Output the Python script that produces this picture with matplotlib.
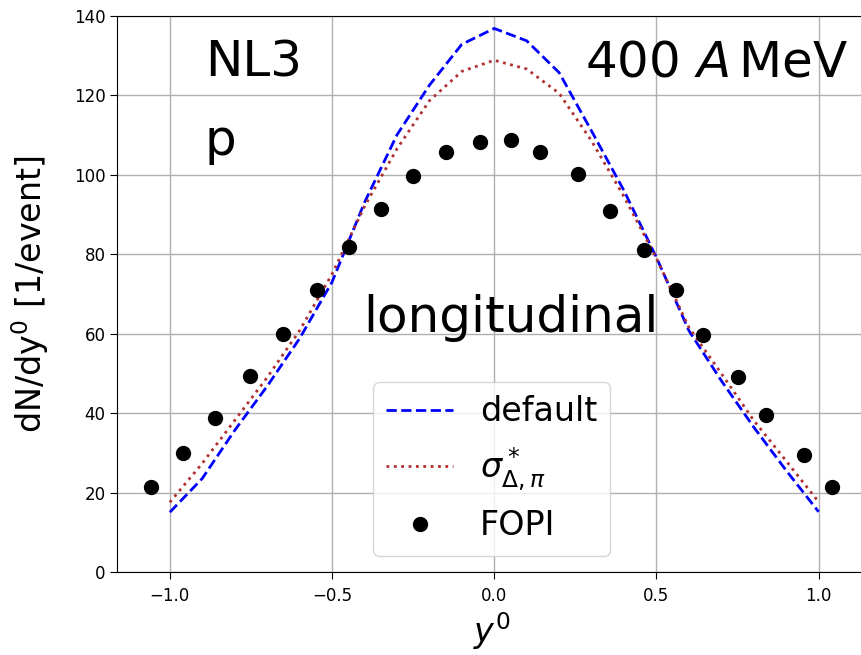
import numpy as np
import matplotlib.pyplot as plt

# model rapidity grid and dN/dy0 curves
y0_model = [-1.0, -0.9, -0.8, -0.7, -0.6, -0.5, -0.4, -0.3, -0.2, -0.1, 0.0,
            0.1, 0.2, 0.3, 0.4, 0.5, 0.6, 0.7, 0.8, 0.9, 1.0]
dndy_default = [15.1, 23.6, 35.7, 46.8, 58.8, 73.0, 93.0, 110.0, 122.5, 132.8, 136.8,
                133.7, 125.7, 111.0, 96.0, 79.2, 60.8, 48.2, 36.5, 25.6, 15.2]
dndy_sigma = [17.6, 27.4, 38.2, 49.0, 60.8, 75.0, 92.0, 106.5, 118.6, 126.0, 128.8,
              126.6, 120.5, 108.5, 94.5, 79.0, 61.6, 50.0, 38.2, 28.0, 17.7]

# FOPI data
y0_fopi = [-1.057, -0.958, -0.860, -0.752, -0.650, -0.545, -0.447, -0.348, -0.250, -0.148, -0.043,
           0.053, 0.140, 0.258, 0.356, 0.461, 0.560, 0.645, 0.752, 0.838, 0.954, 1.041]
dndy_fopi = [21.4, 29.9, 38.8, 49.4, 60.0, 71.1, 81.7, 91.5, 99.8, 105.8, 108.3,
             108.7, 105.8, 100.2, 91.0, 81.0, 70.9, 59.6, 49.0, 39.6, 29.4, 21.5]

fig = plt.figure(figsize=(8.61, 6.55), dpi=100)
ax = fig.add_axes([0.1362, 0.1263, 0.8696, 0.8497])

ax.plot(y0_model, dndy_default, 'b--', lw=2, label='default')
ax.plot(y0_model, dndy_sigma, ':', color='#b03030', lw=2, label=r'$\sigma^*_{\Delta,\pi}$')
ax.plot(y0_fopi, dndy_fopi, 'ko', ms=10, ls='none', label='FOPI')

ax.set_xlim(-1.162, 1.146)
ax.set_ylim(0, 140)
ax.grid(True, color='#b0b0b0', lw=1)
ax.tick_params(labelsize=12, length=5)
ax.tick_params(axis='x', pad=5.5)
ax.set_xlabel(r'$y^0$', fontsize=24)
ax.set_ylabel(r'dN/dy$^0$ [1/event]', fontsize=24, labelpad=16)

ax.text(0.117, 0.891, 'NL3', transform=ax.transAxes, fontsize=36)
ax.text(0.117, 0.75, 'p', transform=ax.transAxes, fontsize=36)
ax.text(0.977, 0.891, r'400 $A\,$MeV', transform=ax.transAxes, fontsize=36, ha='right')
ax.text(0.328, 0.432, 'longitudinal', transform=ax.transAxes, fontsize=36)

ax.legend(loc='lower center', fontsize=24)

fig.savefig('out.png', dpi=100)
